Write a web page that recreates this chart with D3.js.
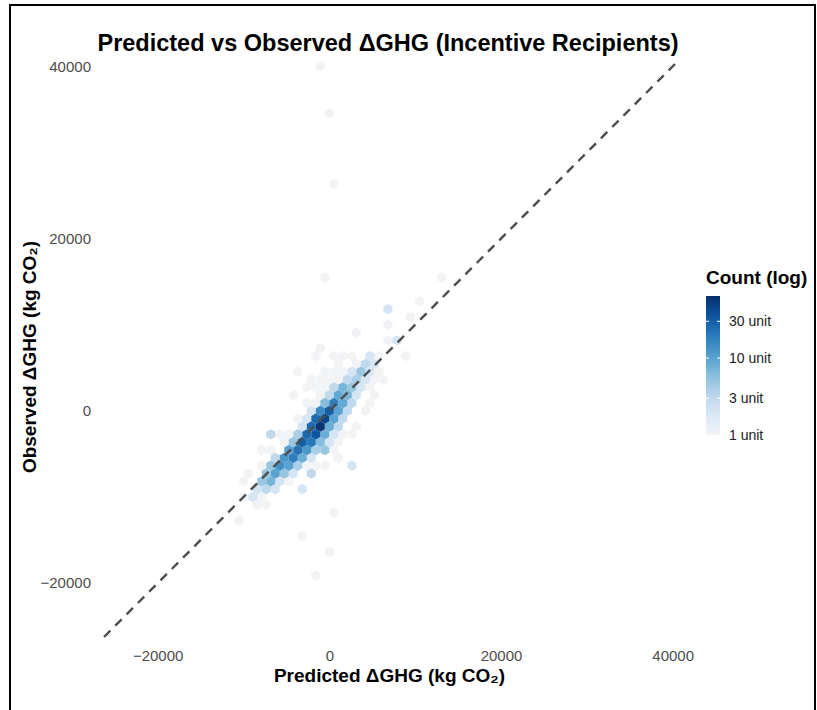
<!DOCTYPE html>
<html>
<head>
<meta charset="utf-8">
<script src="https://cdn.jsdelivr.net/npm/d3@7"></script>
<style>
  body { margin: 0; background: #fff; }
  svg { display: block; font-family: "Liberation Sans", Arial, sans-serif; }
</style>
</head>
<body>
<svg id="plot" width="817" height="710"></svg>
<script>
// hex bins: [predicted, observed, count]
const coreBins = [
  [3150,5456,1],[4200,5456,3],[5250,5456,2],
  [3675,4547,5],[4725,4547,2],[2625,4547,2],
  [3150,3637,4],[4200,3637,2],[2100,3637,3],[1050,3637,1],
  [2625,2728,5],[1575,2728,7],[525,2728,3],[3675,2728,2],
  [1050,1819,9],[2100,1819,7],[0,1819,3],[3150,1819,2],
  [525,909,18],[1575,909,9],[-525,909,6],[2625,909,3],
  [0,0,30],[1050,0,10],[-1050,0,15],[2100,0,3],[-2100,0,2],
  [-525,-909,45],[525,-909,10],[-1575,-909,25],[1575,-909,3],[-2625,-909,2],
  [-1050,-1819,58],[0,-1819,8],[-2100,-1819,25],[1050,-1819,3],[-3150,-1819,2],
  [-1575,-2728,35],[-2625,-2728,25],[-525,-2728,8],[-3675,-2728,4],[525,-2728,2],
  [-3150,-3637,30],[-2100,-3637,20],[-1050,-3637,6],[-4200,-3637,5],[0,-3637,2],
  [-3675,-4547,22],[-2625,-4547,12],[-4725,-4547,10],[-1575,-4547,4],
  [-4200,-5456,18],[-5250,-5456,12],[-3150,-5456,8],[-2100,-5456,2],[-6300,-5456,3],
  [-4725,-6365,10],[-5775,-6365,14],[-3675,-6365,4],[-6825,-6365,5],
  [-6300,-7274,10],[-5250,-7274,5],[-7350,-7274,5],[-4200,-7274,2],
  [-6825,-8184,7],[-7875,-8184,5],[-5775,-8184,2],
  [-7350,-9093,3],[-8400,-9093,2],[-6300,-9093,2],
  [-8925,-10002,2],[-7875,-10002,1]
];
// isolated light-blue bins
const strayBins = [
  [6700,11400,2],[7900,8500,2],[5100,6200,2],[-7100,-3100,3],[-2300,-7700,3],[-3200,-9100,2],
  [-800,-4800,5],[2300,-6600,2]
];
const haloBins = [
  [13000,15500,1],[10800,12600,1],[9100,10900,1],[7100,9700,1],[3400,9100,1],[6500,8000,1],
  [-2000,6800,1],[-1000,7400,1],[2800,6800,1],[4800,6800,1],[5600,6800,1],[9400,6800,1],
  [4000,5600,1],[1300,5100,1],[-3400,4500,1],[-1300,3900,1],[100,3900,1],[1600,3900,1],
  [-200,-6600,1],[-9800,-9600,1],[-11000,-12700,1],[-9000,-7000,1],
  [-10000,-8600,1],[-8500,-10500,1],[-8000,-6000,1],[-6500,-4800,1],[-7500,-9300,1],
  [-6000,-9000,1],[-5000,-7600,1],[-4000,-7000,1],[-5500,-3500,1],[-4500,-2400,1],
  [-3500,-1500,1],[-2000,-5200,1],[-4000,-1000,1],[-2500,0,1],[-2000,1000,1],[-1500,2000,1],
  [-3000,2500,1],[-500,3000,1],[0,-3000,2],[1000,-2000,1],[2000,-1000,1],[2500,0,1],
  [3000,1000,1],[3500,2000,1],[4500,3000,1],[5500,4000,1],[6000,5000,1],[1000,4000,1],
  [2000,5000,1],[-1000,5000,1],[3000,6000,1],[500,6000,1],[6000,6000,1],
  [4000,0,1],[3500,-1500,1],[2500,-3000,1],[1500,-4000,1],[5000,1500,1],
  [-6000,-3000,1],[-3000,500,1],[-1500,3000,1],
  [500,4800,1],[1500,6000,1],[-4500,1500,1],[-2000,4000,1],
  [-7500,-4500,1],[-9500,-8000,1],[-1000,2700,1],
  [-5000,-8500,1],[-3000,-6800,1],[-1500,-6000,1],
  [500,-4500,1],[1500,-3000,1],[4500,1000,1],
  [6500,4000,1],[-7000,-11000,1],[1000,-5500,1]
];
const outlierBins = [
  [-700,40300,1],[-200,34100,1],[1000,26000,1],[-200,15400,1],
  [0,-11800,1],[-3000,-14700,1],[0,-16500,1],[-1300,-18800,1]
];

const axisTicks = [-20000, 0, 20000, 40000];
const legendTicks = [1, 3, 10, 30];
const countMax = 64;
const binWidth = 1050;
const blues = ["#f2f3f5","#deebf7","#c6dbef","#9ecae1","#6baed6","#4292c6","#2171b5","#08519c","#08306b"];

const svg = d3.select("#plot");

// frame round the picture
svg.append("rect")
  .attr("x", 10).attr("y", 5).attr("width", 805).attr("height", 720)
  .attr("fill", "none").attr("stroke", "#000").attr("stroke-width", 2);

const x = d3.scaleLinear().domain([-26250, 40270]).range([104, 675]);
const y = d3.scaleLinear().domain([-26250, 40270]).range([637, 64]);
const color = d3.scaleSequentialLog(d3.interpolateRgbBasis(blues)).domain([1, countMax]);

// snap bins onto a hex lattice
const rowH = binWidth * Math.sqrt(3) / 2;
const cells = new Map();
[...haloBins, ...outlierBins, ...strayBins, ...coreBins].forEach(([px, py, n]) => {
  const j = Math.round(py / rowH);
  const off = (j % 2 !== 0) ? binWidth / 2 : 0;
  const i = Math.round((px - off) / binWidth);
  const key = i + "," + j;
  const prev = cells.get(key);
  if (!prev || prev.n < n) cells.set(key, { cx: i * binWidth + off, cy: j * rowH, n });
});
const hexData = Array.from(cells.values()).sort((a, b) => a.n - b.n);

const r = (x(binWidth) - x(0)) / Math.sqrt(3);
const hexPath = d3.range(6).map(k => {
  const a = Math.PI / 180 * (60 * k - 90);
  return [r * Math.cos(a), r * Math.sin(a)];
});
const hexD = "M" + hexPath.map(p => p.join(",")).join("L") + "Z";

svg.append("g")
  .selectAll("path")
  .data(hexData)
  .enter()
  .append("path")
  .attr("d", hexD)
  .attr("transform", d => `translate(${x(d.cx)},${y(d.cy)})`)
  .attr("fill", d => color(d.n));

// y = x reference line
const dom = x.domain();
svg.append("line")
  .attr("x1", x(dom[0])).attr("y1", y(dom[0]))
  .attr("x2", x(dom[1])).attr("y2", y(dom[1]))
  .attr("stroke", "#4d4d4d").attr("stroke-width", 2.4)
  .attr("stroke-dasharray", "9,7");

// Axes
const xAxis = svg.append("g")
  .attr("transform", "translate(0,637)")
  .call(d3.axisBottom(x).tickValues(axisTicks).tickSize(0).tickPadding(13).tickFormat(d3.format("d")));
const yAxis = svg.append("g")
  .attr("transform", "translate(104,0)")
  .call(d3.axisLeft(y).tickValues(axisTicks).tickSize(0).tickPadding(13).tickFormat(d3.format("d")));
[xAxis, yAxis].forEach(a => {
  a.select(".domain").remove();
  a.selectAll("text")
    .attr("fill", "#4d4d4d")
    .style("font-size", "15px")
    .style("font-family", "Liberation Sans, Arial, sans-serif");
});

// Titles
svg.append("text")
  .attr("x", 388).attr("y", 51)
  .attr("text-anchor", "middle")
  .style("font-size", "23.5px").style("font-weight", "bold")
  .text("Predicted vs Observed ΔGHG (Incentive Recipients)");

svg.append("text")
  .attr("x", 389.5).attr("y", 682)
  .attr("text-anchor", "middle")
  .style("font-size", "19px").style("font-weight", "bold")
  .text("Predicted ΔGHG (kg CO₂)");

svg.append("text")
  .attr("transform", "translate(36,357) rotate(-90)")
  .attr("text-anchor", "middle")
  .style("font-size", "19px").style("font-weight", "bold")
  .text("Observed ΔGHG (kg CO₂)");

// Legend
const ly = d3.scaleLog().domain([1, countMax]).range([435, 296]);
const grad = svg.append("defs").append("linearGradient")
  .attr("id", "cbar").attr("x1", 0).attr("y1", 1).attr("x2", 0).attr("y2", 0);
d3.range(0, 1.0001, 0.05).forEach(t => {
  grad.append("stop")
    .attr("offset", t)
    .attr("stop-color", color(Math.pow(countMax, t)));
});
const leg = svg.append("g");
leg.append("text")
  .attr("x", 706).attr("y", 284)
  .style("font-size", "19px").style("font-weight", "bold")
  .text("Count (log)");
leg.append("rect")
  .attr("x", 706).attr("y", ly(countMax))
  .attr("width", 14).attr("height", ly(1) - ly(countMax))
  .attr("fill", "url(#cbar)");
legendTicks.forEach(v => {
  [[706, 709], [717, 720]].forEach(([a, b]) => {
    leg.append("line")
      .attr("x1", a).attr("x2", b).attr("y1", ly(v)).attr("y2", ly(v))
      .attr("stroke", "#fff").attr("stroke-width", 1);
  });
  leg.append("text")
    .attr("x", 729).attr("y", ly(v)).attr("dy", "0.35em")
    .style("font-size", "14px").attr("fill", "#1a1a1a")
    .text(v + " unit");
});
</script>
</body>
</html>
